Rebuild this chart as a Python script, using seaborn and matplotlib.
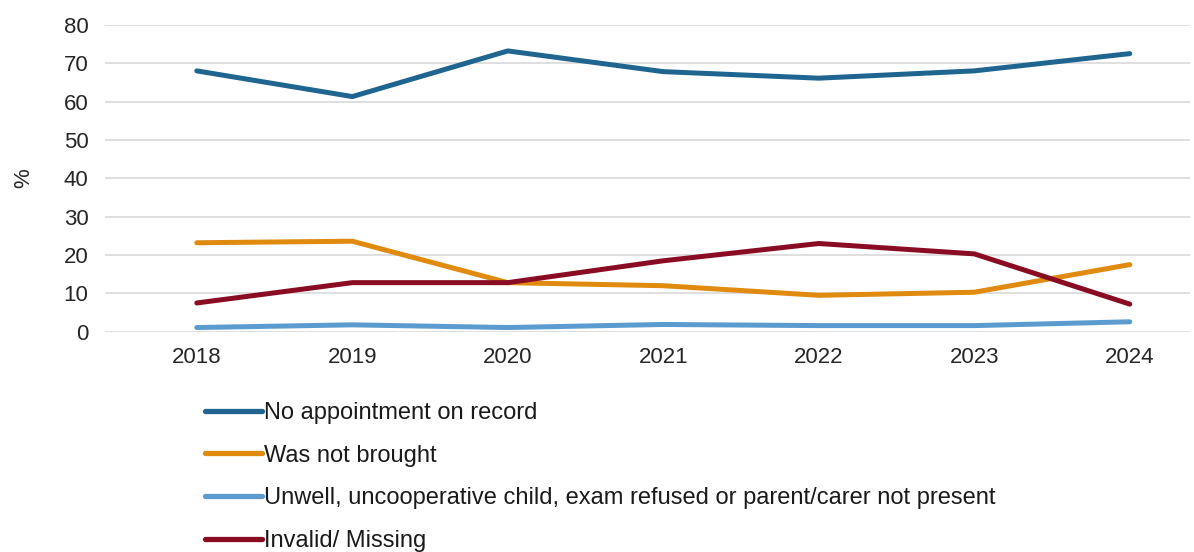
import matplotlib
matplotlib.use("Agg")
import matplotlib.pyplot as plt
import seaborn as sns
import pandas as pd

years = [2018, 2019, 2020, 2021, 2022, 2023, 2024]
series_names = [
    "No appointment on record",
    "Was not brought",
    "Unwell, uncooperative child, exam refused or parent/carer not present",
    "Invalid/ Missing",
]
no_appointment = [68.0, 61.3, 73.2, 67.8, 66.1, 68.0, 72.5]
not_brought = [23.2, 23.6, 12.8, 12.0, 9.5, 10.3, 17.5]
unwell = [1.1, 1.8, 1.1, 1.9, 1.6, 1.6, 2.6]
invalid_missing = [7.5, 12.8, 12.8, 18.5, 23.0, 20.3, 7.2]
colors = ["#1F6590", "#E08A10", "#5B9BD0", "#8A0C22"]

frames = []
for name, vals in zip(series_names, [no_appointment, not_brought, unwell, invalid_missing]):
    frames.append(pd.DataFrame({"year": years, "value": vals, "series": name}))
df = pd.concat(frames, ignore_index=True)

sns.set_theme(style="white")
plt.rcParams["font.family"] = ["Liberation Sans", "DejaVu Sans"]

fig = plt.figure(figsize=(11.94, 5.52), dpi=100)
ax = fig.add_axes([0.088, 0.399, 0.909, 0.556])

sns.lineplot(data=df, x="year", y="value", hue="series", hue_order=series_names,
             palette=colors, linewidth=3.6, ax=ax, legend=False, zorder=3)

ax.set_ylim(0, 80)
ax.set_yticks(range(0, 81, 10))
ax.set_xlim(2018 - 0.59, 2024 + 0.39)
ax.set_xticks(years)
ax.set_xticklabels([str(y) for y in years])
ax.yaxis.grid(True, color="#D9D9D9", linewidth=1.2)
ax.xaxis.grid(False)
for s in ax.spines.values():
    s.set_visible(False)
ax.tick_params(axis="both", labelsize=16, colors="#262626", length=0)
ax.tick_params(axis="y", pad=12)
ax.tick_params(axis="x", pad=11)
ax.set_xlabel("")
ax.set_ylabel("%", fontsize=16, color="#262626", labelpad=21)

handles = [plt.Line2D([0], [0], color=c, linewidth=3.8, solid_capstyle="round") for c in colors]
fig.legend(handles, series_names, loc="upper left", bbox_to_anchor=(0.172, 0.272),
           frameon=False, fontsize=17, handlelength=2.4, handletextpad=0.08,
           labelspacing=0.88, borderaxespad=0, borderpad=0, labelcolor="#1A1A1A")

fig.savefig("out.png", dpi=100)
